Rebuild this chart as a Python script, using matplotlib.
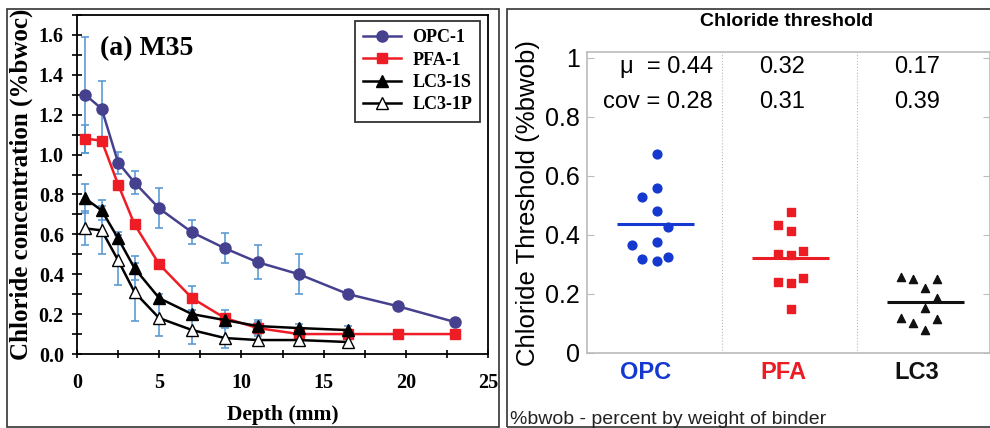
import matplotlib.pyplot as plt
import numpy as np
from matplotlib.patches import Rectangle
from matplotlib.ticker import MultipleLocator

# left panel: chloride profiles
depth = [0.5, 1.5, 2.5, 3.5, 5, 7, 9, 11, 13.5, 16.5, 19.5, 23]
opc_1 = [1.30, 1.23, 0.96, 0.86, 0.73, 0.61, 0.53, 0.46, 0.40, 0.30, 0.24, 0.16]
opc_1_err = [0.29, 0.14, 0.055, 0.06, 0.10, 0.06, 0.075, 0.085, 0.10, 0.02, 0, 0]
pfa_1 = [1.08, 1.07, 0.85, 0.65, 0.45, 0.28, 0.18, 0.13, 0.10, 0.10, 0.10, 0.10]
pfa_1_err = [0.07, 0.02, 0.02, 0.02, 0.02, 0.06, 0.04, 0.04, 0.02, 0.01, 0, 0]
depth_lc3 = [0.5, 1.5, 2.5, 3.5, 5, 7, 9, 11, 13.5, 16.5]
lc3_1s = [0.78, 0.72, 0.58, 0.43, 0.28, 0.20, 0.17, 0.14, 0.13, 0.12]
lc3_1s_err = [0.075, 0.05, 0.03, 0.06, 0.02, 0.02, 0.02, 0.02, 0.02, 0.02]
lc3_1p = [0.63, 0.62, 0.47, 0.31, 0.18, 0.12, 0.08, 0.07, 0.07, 0.06]
lc3_1p_err = [0.085, 0.12, 0.125, 0.145, 0.09, 0.07, 0.05, 0.03, 0.03, 0.025]

# right panel: chloride thresholds
opc_x = [0.52, 0.52, 0.41, 0.52, 0.60, 0.33, 0.52, 0.41, 0.52, 0.60]
opc_thr = [0.675, 0.558, 0.530, 0.481, 0.426, 0.366, 0.377, 0.319, 0.313, 0.326]
pfa_x = [1.51, 1.41, 1.51, 1.41, 1.51, 1.60, 1.41, 1.51, 1.60, 1.51]
pfa_thr = [0.477, 0.434, 0.415, 0.336, 0.332, 0.347, 0.242, 0.238, 0.255, 0.148]
lc3_x = [2.32, 2.41, 2.59, 2.50, 2.59, 2.50, 2.32, 2.41, 2.59, 2.50]
lc3_thr = [0.259, 0.250, 0.250, 0.219, 0.185, 0.151, 0.118, 0.101, 0.114, 0.078]
groups = ['OPC', 'PFA', 'LC3']
group_colors = ['#1438d0', '#ec1c24', '#111111']
means = [0.437, 0.323, 0.174]
mean_txt = ['\u03bc  = 0.44', '0.32', '0.17']
cov_txt = ['cov = 0.28', '0.31', '0.39']

W, H = 990, 428
fig = plt.figure(figsize=(9.9, 4.28), dpi=100)

def box(x0, y0, x1, y1, color='#333333', lw=1.2):
    fig.add_artist(Rectangle((x0 / W, 1 - y1 / H), (x1 - x0) / W, (y1 - y0) / H,
                             transform=fig.transFigure, fill=False,
                             edgecolor=color, linewidth=lw))

box(7, 9, 499, 427)
box(507, 9, 992, 427)

# ---- left axes
serif = 'Liberation Serif'
ax = fig.add_axes([77 / W, 1 - 354 / H, 411 / W, 339 / H])
eb = dict(ecolor='#5b9bd5', elinewidth=1.2, capsize=3, capthick=1.2)
ax.errorbar(depth, opc_1, yerr=opc_1_err, fmt='none', zorder=1, **eb)
ax.errorbar(depth, pfa_1, yerr=pfa_1_err, fmt='none', zorder=1, **eb)
ax.errorbar(depth_lc3, lc3_1s, yerr=lc3_1s_err, fmt='none', zorder=1, **eb)
ax.errorbar(depth_lc3, lc3_1p, yerr=lc3_1p_err, fmt='none', zorder=1, **eb)
ax.plot(depth, opc_1, '-o', color='#46418f', lw=1.8, ms=8, label='OPC-1', zorder=3)
ax.plot(depth, pfa_1, '-s', color='#ee1c25', lw=1.8, ms=7, label='PFA-1', zorder=3)
ax.plot(depth_lc3, lc3_1s, '-^', color='black', lw=1.8, ms=8, label='LC3-1S', zorder=4)
ax.plot(depth_lc3, lc3_1p, '-^', color='black', mfc='white', lw=1.8, ms=8,
        label='LC3-1P', zorder=4)
ax.set_xlim(0, 25)
ax.set_ylim(0, 1.7)
ax.set_yticks(np.arange(0, 1.61, 0.2))
ax.yaxis.set_minor_locator(MultipleLocator(0.1))
ax.xaxis.set_minor_locator(MultipleLocator(2.5))
ax.tick_params(axis='y', which='both', direction='inout', length=7, width=1.2, pad=6)
ax.tick_params(axis='x', which='both', direction='inout', length=6, width=1.2, pad=11)
ax.set_yticklabels(['%.1f' % v for v in np.arange(0, 1.61, 0.2)])
for lab in ax.get_xticklabels() + ax.get_yticklabels():
    lab.set_fontfamily(serif)
    lab.set_fontweight('bold')
    lab.set_fontsize(14.5)
for s in ax.spines.values():
    s.set_linewidth(1.3)
ax.set_xlabel('Depth (mm)', family=serif, weight='bold', fontsize=15.5, labelpad=8)
ax.set_ylabel('Chloride concentration (%bwoc)', family=serif, weight='bold',
              fontsize=18, labelpad=4)
ax.text(0.055, 0.90, '(a) M35', transform=ax.transAxes, family=serif,
        weight='bold', fontsize=20, va='center')
leg = ax.legend(loc='upper right', bbox_to_anchor=(0.981, 0.982), borderaxespad=0,
                fancybox=False, prop=dict(family=serif, weight='bold', size=13),
                handlelength=2.1, borderpad=0.45, labelspacing=0.3, handletextpad=0.6)
leg.get_frame().set_edgecolor('black')
leg.get_frame().set_linewidth(1.3)

# ---- right axes
sans = 'Liberation Sans'
ax2 = fig.add_axes([587 / W, 1 - 353 / H, 403 / W, 301 / H])
ax2.scatter(opc_x, opc_thr, marker='o', s=40, color=group_colors[0], zorder=3)
ax2.scatter(pfa_x, pfa_thr, marker='s', s=40, color=group_colors[1], zorder=3)
ax2.scatter(lc3_x, lc3_thr, marker='^', s=34, color=group_colors[2], zorder=3)
for i, m in enumerate(means):
    ax2.hlines(m, i + 0.22, i + 0.79, color=group_colors[i], lw=2.2, zorder=4)
ax2.set_xlim(0, 2.98)
ax2.set_ylim(0, 1.02)
ax2.set_yticks([0, 0.2, 0.4, 0.6, 0.8, 1])
ax2.set_yticklabels(['0', '0.2', '0.4', '0.6', '0.8', '1'], family=sans, fontsize=18)
ax2.set_xticks([0.43, 1.45, 2.44])
ax2.set_xticklabels(groups, family=sans, weight='bold', fontsize=17)
for lab, c in zip(ax2.get_xticklabels(), group_colors):
    lab.set_color(c)
ax2.tick_params(axis='x', length=0, pad=6)
ax2.tick_params(axis='y', direction='in', length=5, color='#bbbbbb', right=True, pad=5)
for b in [1, 2]:
    ax2.axvline(b, color='#bbbbbb', lw=0.8, ls=':', zorder=0)
for s in ax2.spines.values():
    s.set_color('#bbbbbb')
    s.set_linewidth(1.2)
ax2.set_ylabel('Chloride Threshold (%bwob)', family=sans, fontsize=18.5, labelpad=4)
row_y = [0.969, 0.851]
for i in range(3):
    if i == 0:
        ax2.text(0.93, row_y[0], mean_txt[i], family=sans, fontsize=17, ha='right', va='center')
        ax2.text(0.93, row_y[1], cov_txt[i], family=sans, fontsize=17, ha='right', va='center')
    else:
        ax2.text(i + 0.44, row_y[0], mean_txt[i], family=sans, fontsize=17, ha='center', va='center')
        ax2.text(i + 0.44, row_y[1], cov_txt[i], family=sans, fontsize=17, ha='center', va='center')
fig.text(787 / W, 1 - 22 / H, 'Chloride threshold', family=sans, weight='bold',
         fontsize=14, ha='center', va='center')
fig.text(510 / W, 1 - 420 / H, '%bwob - percent by weight of binder', family=sans,
         fontsize=14, ha='left', va='center', color='#222222')

fig.savefig('out.png', dpi=100)
